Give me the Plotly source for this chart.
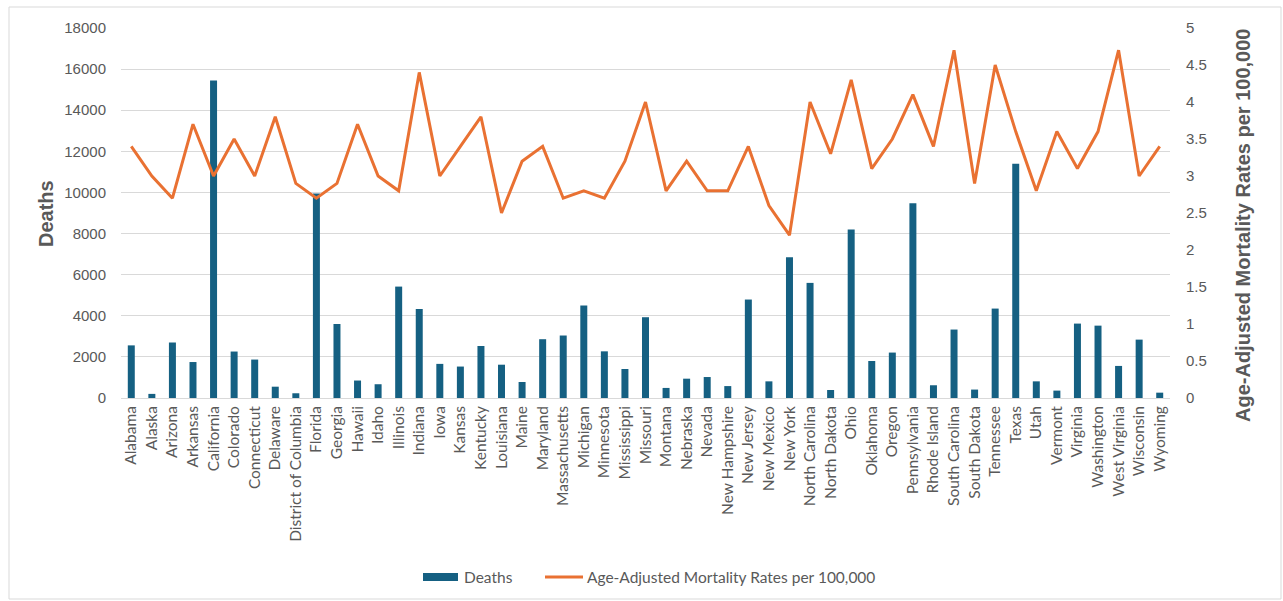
import plotly.graph_objects as go

states = ["Alabama", "Alaska", "Arizona", "Arkansas", "California", "Colorado", "Connecticut",
          "Delaware", "District of Columbia", "Florida", "Georgia", "Hawaii", "Idaho", "Illinois",
          "Indiana", "Iowa", "Kansas", "Kentucky", "Louisiana", "Maine", "Maryland", "Massachusetts",
          "Michigan", "Minnesota", "Mississippi", "Missouri", "Montana", "Nebraska", "Nevada",
          "New Hampshire", "New Jersey", "New Mexico", "New York", "North Carolina", "North Dakota",
          "Ohio", "Oklahoma", "Oregon", "Pennsylvania", "Rhode Island", "South Carolina",
          "South Dakota", "Tennessee", "Texas", "Utah", "Vermont", "Virginia", "Washington",
          "West Virginia", "Wisconsin", "Wyoming"]

deaths = [2560, 200, 2700, 1750, 15450, 2260, 1870, 550, 230, 9950, 3600, 850, 670, 5420,
          4330, 1660, 1530, 2530, 1620, 780, 2860, 3040, 4500, 2270, 1410, 3930, 490, 940, 1020,
          580, 4790, 810, 6850, 5600, 390, 8200, 1800, 2210, 9480, 620, 3330, 410, 4350, 11400,
          810, 360, 3620, 3520, 1560, 2840, 260]

rates = [3.4, 3.0, 2.7, 3.7, 3.0, 3.5, 3.0, 3.8, 2.9, 2.7, 2.9, 3.7, 3.0, 2.8, 4.4, 3.0,
         3.4, 3.8, 2.5, 3.2, 3.4, 2.7, 2.8, 2.7, 3.2, 4.0, 2.8, 3.2, 2.8, 2.8, 3.4, 2.6, 2.2,
         4.0, 3.3, 4.3, 3.1, 3.5, 4.1, 3.4, 4.7, 2.9, 4.5, 3.6, 2.8, 3.6, 3.1, 3.6, 4.7, 3.0, 3.4]

death_ticks = list(range(0, 18001, 2000))
rate_ticks = [i * 0.5 for i in range(11)]

BAR_NAME = "Deaths"
LINE_NAME = "Age-Adjusted Mortality Rates per 100,000"
LEFT_TITLE = "Deaths"
RIGHT_TITLE = "Age-Adjusted Mortality Rates per 100,000"

BLUE = "#156082"
ORANGE = "#E97132"
GRAY = "#595959"
GRID = "#D9D9D9"
FONT = "Lato"
NUMFONT = "Liberation Sans"

fig = go.Figure()
fig.add_trace(go.Bar(x=states, y=deaths, name=BAR_NAME, marker=dict(color=BLUE, line_width=0),
                     yaxis="y", showlegend=False))
fig.add_trace(go.Scatter(x=states, y=rates, name=LINE_NAME,
                         mode="lines", line=dict(color=ORANGE, width=3), yaxis="y2",
                         showlegend=False))

W, H = 1283, 601
L, R, T, B = 121, 113, 28, 203
pw = W - L - R
ph = H - T - B


def px(x):
    return (x - L) / pw


def py(y):
    return (H - B - y) / ph


legend_y = 577

fig.update_layout(
    width=W, height=H,
    margin=dict(l=L, r=R, t=T, b=B, autoexpand=False),
    paper_bgcolor="white", plot_bgcolor="white",
    font=dict(family=FONT, color=GRAY, size=15.5),
    bargap=0.66,
    showlegend=False,
    xaxis=dict(type="category", tickangle=-90, showgrid=False, showline=False, ticks="",
               tickfont=dict(family=FONT, size=15.5, color=GRAY), ticklabelstandoff=4),
    yaxis=dict(range=[0, 18000], tickvals=death_ticks, tickformat="d", showgrid=True,
               gridcolor=GRID, gridwidth=1, zeroline=True, zerolinecolor=GRID, zerolinewidth=1,
               showline=False, ticks="", tickfont=dict(family=NUMFONT, size=15, color=GRAY),
               ticklabelstandoff=14),
    yaxis2=dict(range=[0, 5], tickvals=rate_ticks, overlaying="y", side="right", showgrid=False,
                zeroline=False, showline=False, ticks="",
                tickfont=dict(family=NUMFONT, size=15, color=GRAY), ticklabelstandoff=15),
    shapes=[
        dict(type="rect", xref="paper", yref="paper",
             x0=px(9), x1=px(1281), y0=py(599), y1=py(7),
             line=dict(color="#D9D9D9", width=1), fillcolor="rgba(0,0,0,0)", layer="below"),
        dict(type="rect", xref="paper", yref="paper",
             x0=px(423), x1=px(458), y0=py(legend_y + 4), y1=py(legend_y - 4),
             line=dict(width=0), fillcolor=BLUE),
        dict(type="line", xref="paper", yref="paper",
             x0=px(545), x1=px(583), y0=py(legend_y), y1=py(legend_y),
             line=dict(color=ORANGE, width=3)),
    ],
    annotations=[
        dict(text=BAR_NAME, xref="paper", yref="paper", x=px(462), y=py(legend_y),
             xanchor="left", yanchor="middle", showarrow=False,
             font=dict(size=15.5, color=GRAY)),
        dict(text=LINE_NAME, xref="paper", yref="paper", x=px(585), y=py(legend_y),
             xanchor="left", yanchor="middle", showarrow=False,
             font=dict(size=15.5, color=GRAY)),
        dict(text="<b>" + LEFT_TITLE + "</b>", xref="paper", yref="paper", x=px(46), y=py(214),
             xanchor="center", yanchor="middle", textangle=-90, showarrow=False,
             font=dict(family=NUMFONT, size=20, color=GRAY)),
        dict(text="<b>" + RIGHT_TITLE + "</b>", xref="paper", yref="paper", x=px(1243), y=py(226),
             xanchor="center", yanchor="middle", textangle=-90, showarrow=False,
             font=dict(family=NUMFONT, size=20, color=GRAY)),
    ],
)

fig.write_html("out.html")
